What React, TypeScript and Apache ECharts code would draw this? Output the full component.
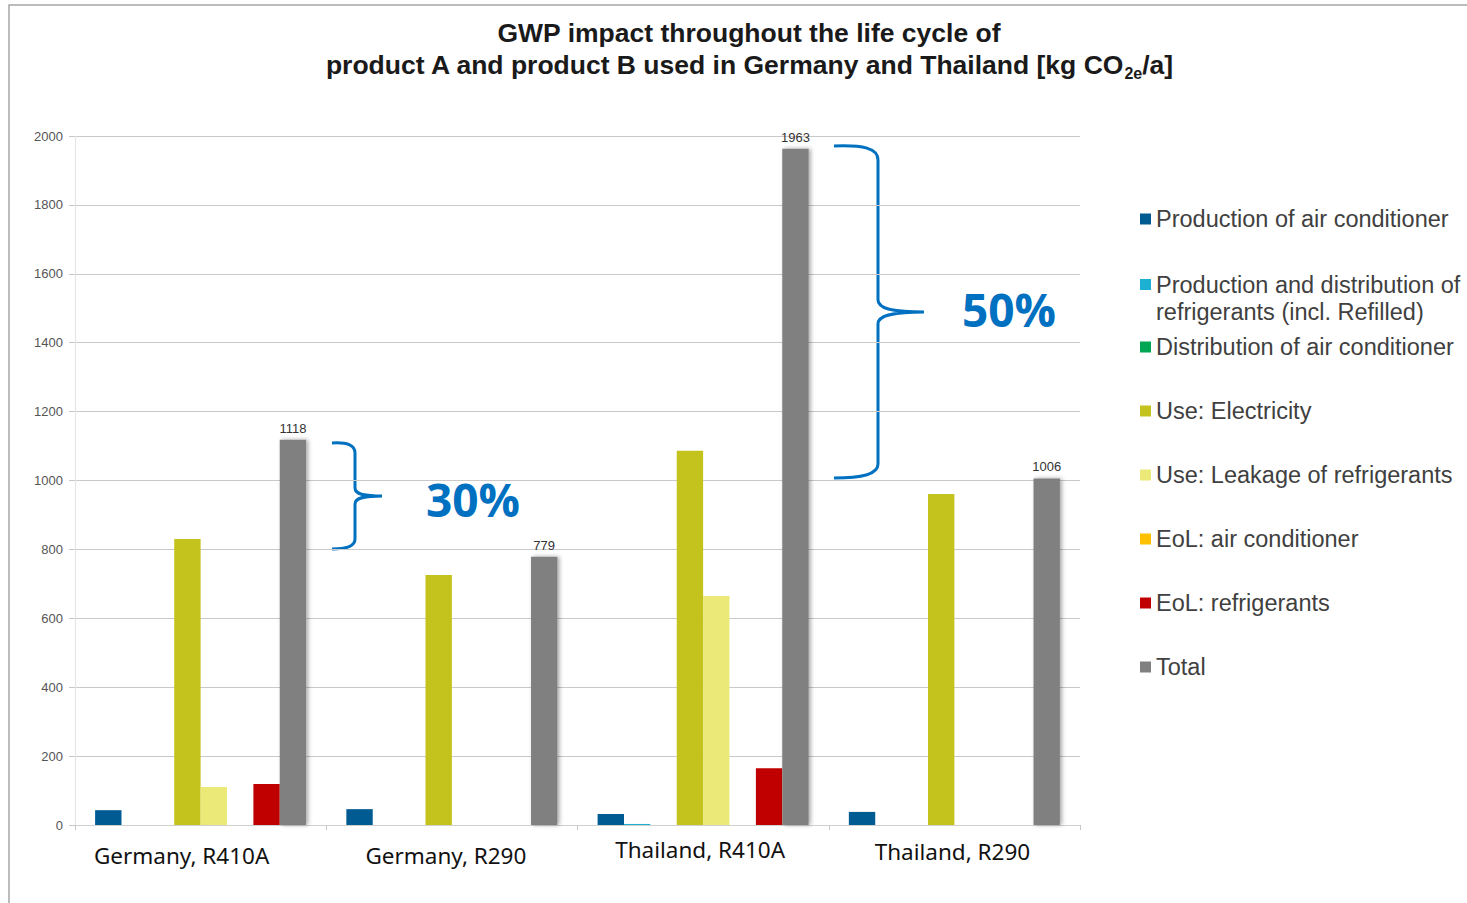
import React, { useEffect, useRef } from "react";
import * as echarts from "echarts";

const categories = ["Germany, R410A", "Germany, R290", "Thailand, R410A", "Thailand, R290"];
const seriesNames = [
  "Production of air conditioner",
  "Production and distribution of refrigerants (incl. Refilled)",
  "Distribution of air conditioner",
  "Use: Electricity",
  "Use: Leakage of refrigerants",
  "EoL: air conditioner",
  "EoL: refrigerants",
  "Total",
];
const productionAC = [43, 46, 32, 38];
const productionRefrigerants = [0, 0, 3, 0];
const distributionAC = [0, 0, 0, 0];
const useElectricity = [830, 726, 1086, 961];
const useLeakage = [110, 0, 665, 0];
const eolAC = [0, 0, 0, 0];
const eolRefrigerants = [119, 0, 165, 0];
const totals = [1118, 779, 1963, 1006];
const seriesValues = [
  productionAC,
  productionRefrigerants,
  distributionAC,
  useElectricity,
  useLeakage,
  eolAC,
  eolRefrigerants,
  totals,
];
const seriesColors = ["#005b93", "#1cb0d2", "#00a651", "#c4c31e", "#ebe978", "#ffc000", "#c00000", "#808080"];
const yTicks = { min: 0, max: 2000, interval: 200 };
const annotations = ["30%", "50%"];

const brace1 =
  "M332,443 C347,442 355,445 355,453 L355,488 C355,494 363,496 382,496 C363,496 355,498 355,504 L355,539 C355,546 348,549 332,549";
const brace2 =
  "M834,146 C863,145 878,148 878,160 L878,300 C878,308 890,312 924,312 C890,312 878,316 878,324 L878,464 C878,474 863,478 834,478";

export default function App() {
  const ref = useRef<HTMLDivElement>(null);
  useEffect(() => {
    if (!ref.current) return;
    echarts.graphic.registerShape("brace1", echarts.graphic.extendPath(brace1, {}));
    echarts.graphic.registerShape("brace2", echarts.graphic.extendPath(brace2, {}));
    const chart = echarts.init(ref.current, null, { renderer: "svg" });
    const legendText = {
      fontFamily: "Liberation Sans",
      fontSize: 23.5,
      color: "#404040",
      lineHeight: 24,
    };
    const labelRich: any = {
      c0: { padding: [6, 38, 0, 0] },
      c1: { padding: [6, 12, 0, 0] },
      c2: { padding: [0, 6, 0, 0] },
      c3: { padding: [2, 4, 0, 0] },
    };
    Object.keys(labelRich).forEach((k) => {
      labelRich[k] = { ...labelRich[k], fontFamily: "Noto Sans", fontSize: 22.5, color: "#111" };
    });
    chart.setOption({
      animation: false,
      backgroundColor: "#ffffff",
      title: {
        left: 749,
        top: 17,
        padding: 0,
        textAlign: "center",
        text:
          "{b|GWP impact throughout the life cycle of}\n{b|product A and product B used in Germany and Thailand [kg CO}{s|2e}{b|/a]}",
        textStyle: {
          rich: {
            b: { fontFamily: "Liberation Sans", fontWeight: "bold", fontSize: 26.5, lineHeight: 32, color: "#1a1a1a" },
            s: {
              fontFamily: "Liberation Sans",
              fontWeight: "bold",
              fontSize: 16,
              lineHeight: 19,
              verticalAlign: "bottom",
              color: "#1a1a1a",
            },
          },
        },
      },
      grid: { left: 75, right: 387, top: 136, bottom: 78, containLabel: false },
      legend: [
        {
          orient: "vertical",
          left: 1140,
          top: 207,
          padding: 0,
          itemWidth: 11,
          itemHeight: 11,
          icon: "rect",
          selectedMode: false,
          data: [seriesNames[0]],
          textStyle: legendText,
        },
        {
          orient: "vertical",
          left: 1140,
          top: 244,
          padding: 0,
          itemWidth: 11,
          itemHeight: 11,
          icon: "rect",
          selectedMode: false,
          data: [seriesNames[1]],
          formatter: () => " \nProduction and distribution of\nrefrigerants (incl. Refilled)",
          textStyle: { ...legendText, lineHeight: 27 },
        },
        {
          orient: "vertical",
          left: 1140,
          top: 335,
          padding: 0,
          itemWidth: 11,
          itemHeight: 11,
          itemGap: 40,
          icon: "rect",
          selectedMode: false,
          data: seriesNames.slice(2),
          textStyle: legendText,
        },
      ],
      xAxis: {
        type: "category",
        data: categories,
        axisLine: { show: true, lineStyle: { color: "#d0d0d0", width: 1 } },
        axisTick: { show: true, length: 5, lineStyle: { color: "#c8c8c8" } },
        axisLabel: {
          margin: 13,
          formatter: (v: string) => `{c${categories.indexOf(v)}|${v}}`,
          rich: labelRich,
        },
      },
      yAxis: {
        type: "value",
        min: yTicks.min,
        max: yTicks.max,
        interval: yTicks.interval,
        axisLine: { show: true, lineStyle: { color: "#e4e4e4" } },
        axisTick: { show: true, length: 6, lineStyle: { color: "#c8c8c8" } },
        axisLabel: {
          fontFamily: "Liberation Sans",
          fontSize: 13,
          color: "#555",
          margin: 12,
          formatter: (v: number) => String(v),
        },
        splitLine: { lineStyle: { color: "#c9c9c9", width: 1 } },
      },
      series: seriesNames.map((name, i) => ({
        name,
        type: "bar",
        data: seriesValues[i],
        barGap: "0%",
        barCategoryGap: "16%",
        itemStyle:
          i === 7
            ? { color: seriesColors[i], shadowColor: "rgba(0,0,0,0.35)", shadowBlur: 4, shadowOffsetX: 2 }
            : { color: seriesColors[i] },
        label:
          i === 7
            ? {
                show: true,
                position: "top",
                distance: 5,
                fontFamily: "Liberation Sans",
                fontSize: 13,
                color: "#333",
              }
            : { show: false },
      })),
      graphic: [
        {
          type: "rect",
          shape: { x: 9, y: 5, width: 1600, height: 1000 },
          style: { fill: "none", stroke: "#a6a6a6", lineWidth: 1.5 },
          silent: true,
        },
        {
          type: "brace1",
          style: { fill: "none", stroke: "#0070c0", lineWidth: 3 },
          silent: true,
        },
        {
          type: "brace2",
          style: { fill: "none", stroke: "#0070c0", lineWidth: 3 },
          silent: true,
        },
        {
          type: "text",
          left: 426,
          top: 476,
          style: {
            text: annotations[0],
            fontFamily: "Open Sans",
            fontWeight: "bold",
            fontSize: 46,
            fill: "#0070c0",
          },
        },
        {
          type: "text",
          left: 962,
          top: 286,
          style: {
            text: annotations[1],
            fontFamily: "Open Sans",
            fontWeight: "bold",
            fontSize: 46,
            fill: "#0070c0",
          },
        },
      ],
    });
    return () => chart.dispose();
  }, []);
  return <div ref={ref} style={{ position: "fixed", left: 0, top: 0, width: 1467, height: 903 }} />;
}
